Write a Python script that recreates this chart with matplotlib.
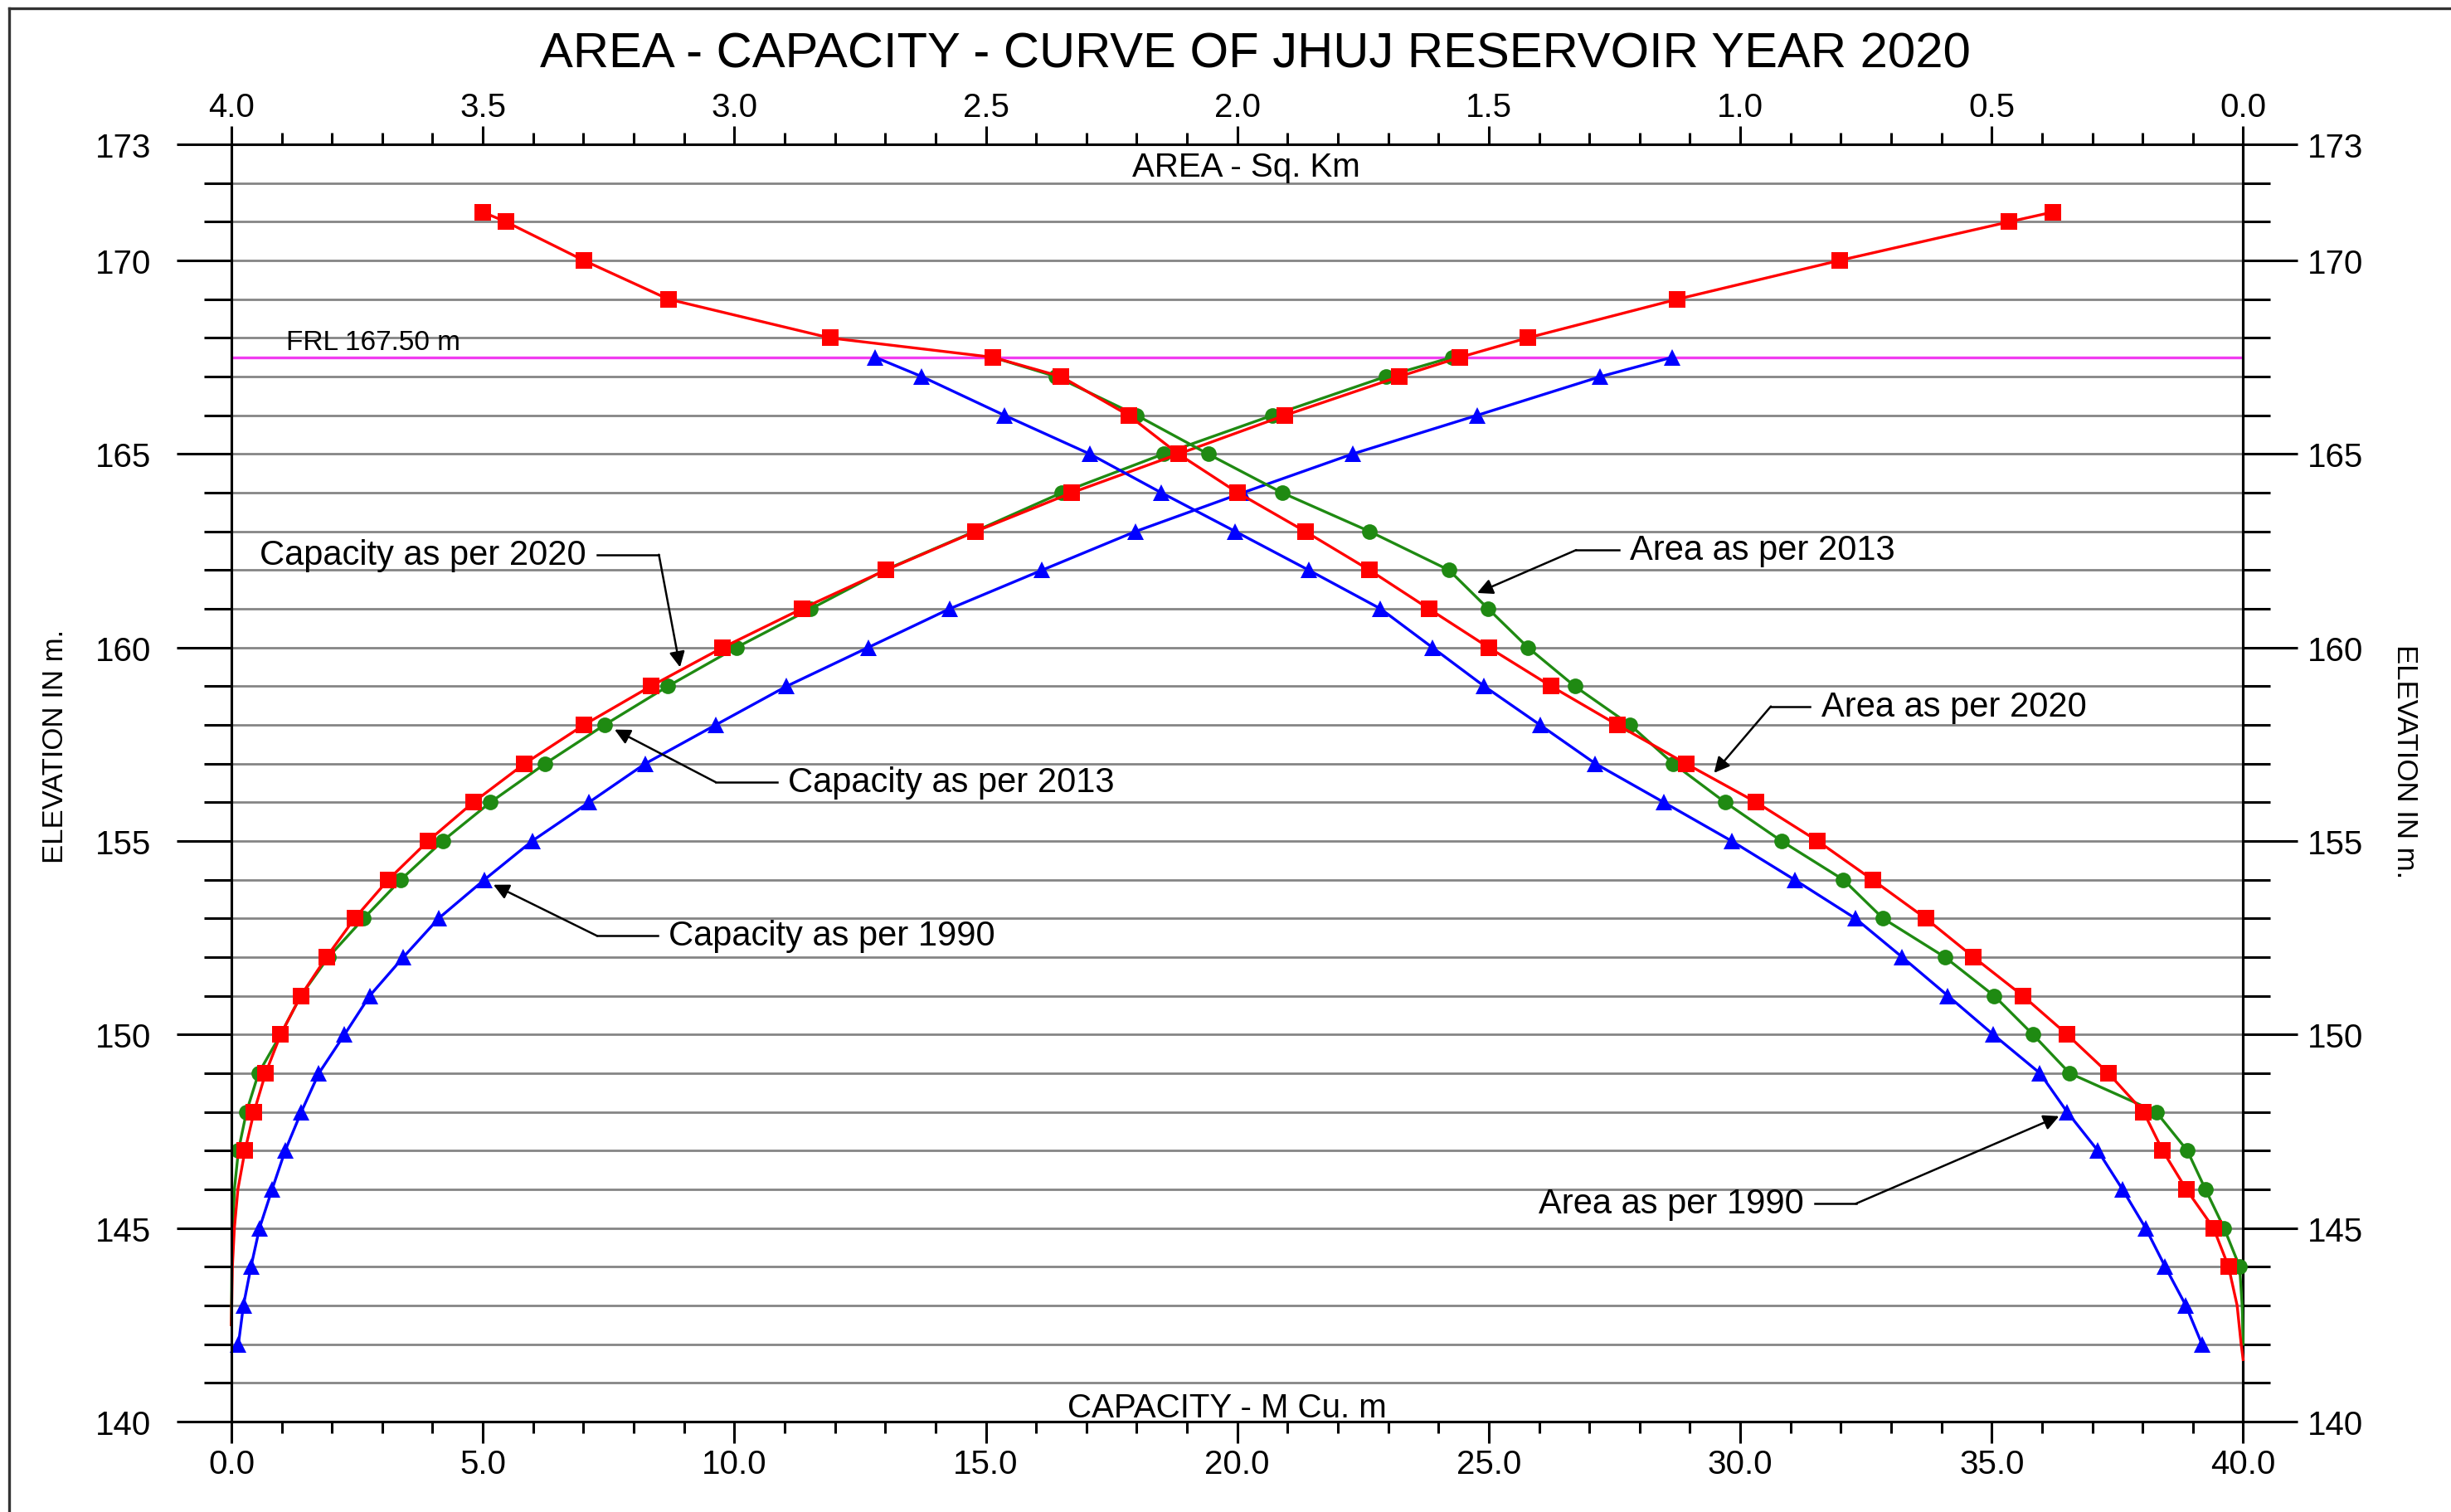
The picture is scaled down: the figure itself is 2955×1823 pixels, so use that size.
import numpy as np
import matplotlib
matplotlib.use("Agg")
import matplotlib.pyplot as plt
from matplotlib.lines import Line2D
from matplotlib.ticker import FormatStrFormatter

plt.rcParams["font.family"] = ["Liberation Sans", "DejaVu Sans"]

TITLE = "AREA - CAPACITY - CURVE OF JHUJ RESERVOIR YEAR 2020"
FRL = 167.5

# elevations (m) at which each survey was tabulated
ELEV_2020_CAP = [171.25, 171, 170, 169, 168, 167.5] + list(range(167, 146, -1))
ELEV_2020_AREA = [171.25, 171, 170, 169, 168, 167.5] + list(range(167, 143, -1))
ELEV_2013_CAP = [167.5] + list(range(167, 146, -1))
ELEV_2013_AREA = [167.5] + list(range(167, 143, -1))
ELEV_1990 = [167.5] + list(range(167, 141, -1))

# capacity, M Cu. m
CAP_2020 = [36.21, 35.35, 31.97, 28.75, 25.77, 24.43, 23.22, 20.95, 18.83, 16.71,
            14.80, 13.01, 11.34, 9.77, 8.34, 7.01, 5.83, 4.81, 3.91, 3.12,
            2.45, 1.89, 1.38, 0.98, 0.68, 0.45, 0.27]
CAP_2013 = [24.27, 22.95, 20.70, 18.53, 16.51, 14.78, 12.99, 11.52, 10.04, 8.68,
            7.42, 6.24, 5.15, 4.20, 3.37, 2.63, 1.93, 1.38, 0.98, 0.54,
            0.30, 0.14]
CAP_1990 = [28.65, 27.22, 24.77, 22.29, 20.11, 17.98, 16.12, 14.28, 12.66, 11.04,
            9.63, 8.23, 7.11, 5.98, 5.03, 4.12, 3.42, 2.75, 2.25, 1.74,
            1.39, 1.07, 0.81, 0.56, 0.39, 0.24, 0.14]

# water spread area, Sq. Km
AREA_2020 = [3.50, 3.454, 3.299, 3.131, 2.81, 2.486, 2.35, 2.216, 2.117, 1.999,
             1.865, 1.737, 1.619, 1.500, 1.376, 1.244, 1.108, 0.968, 0.846, 0.737,
             0.631, 0.536, 0.438, 0.350, 0.268, 0.198, 0.160, 0.113, 0.059, 0.029]
AREA_2013 = [2.486, 2.36, 2.20, 2.058, 1.911, 1.737, 1.579, 1.501, 1.422, 1.329,
             1.219, 1.133, 1.030, 0.918, 0.795, 0.716, 0.593, 0.495, 0.418, 0.345,
             0.173, 0.111, 0.075, 0.038, 0.007]
AREA_1990 = [2.72, 2.627, 2.463, 2.293, 2.151, 2.004, 1.858, 1.715, 1.612, 1.509,
             1.398, 1.288, 1.152, 1.017, 0.892, 0.771, 0.678, 0.587, 0.497, 0.404,
             0.350, 0.289, 0.240, 0.194, 0.155, 0.114, 0.082]

# curve run-out below the last tabulated level (no marker)
TAIL_CAP_2020 = ([146, 145, 144, 142.5], [0.13, 0.06, 0.02, 0.0])
TAIL_CAP_2013 = ([146, 145, 144, 142.5], [0.06, 0.03, 0.01, 0.0])
TAIL_AREA_2020 = ([143, 142, 141.6], [0.012, 0.004, 0.0])
TAIL_AREA_2013 = ([143, 142], [0.002, 0.0])

# callouts: text, text anchor (capacity, elev), alignment, elbow x, arrow tip
CALLOUTS = [
    ("Capacity as per 2020", (7.06, 162.40), "right", 8.50, (8.92, 159.49)),
    ("Capacity as per 2013", (11.07, 156.52), "left", 9.63, (7.62, 157.88)),
    ("Capacity as per 1990", (8.69, 152.55), "left", 7.27, (5.21, 153.87)),
    ("Area as per 2013", (27.81, 162.52), "left", 26.74, (24.77, 161.41)),
    ("Area as per 2020", (31.61, 158.48), "left", 30.61, (29.48, 156.76)),
    ("Area as per 1990", (31.27, 145.63), "right", 32.30, (36.34, 147.89)),
]

RED, GREEN, BLUE = "#ff0000", "#1f8a12", "#0000ff"
TICK_FS = 29


def draw_curve(ax, xs, elev, color, marker, ms, tail=None, z=3):
    x_all, y_all = list(xs), list(elev)
    if tail is not None:
        y_all += list(tail[0])
        x_all += list(tail[1])
    ax.plot(x_all, y_all, color=color, lw=2.4, marker=marker, ms=ms,
            markevery=list(range(len(xs))), markeredgewidth=0,
            zorder=z, clip_on=False)


fig = plt.figure(figsize=(29.55, 18.24), dpi=100)
ax = fig.add_axes([0.0944, 0.0598, 0.8208, 0.8442])
ax.set_xlim(0, 40)
ax.set_ylim(140, 173)

# capacity axis (bottom)
ax.set_xticks(np.arange(0, 41, 5))
ax.set_xticks(np.arange(0, 41, 1), minor=True)
ax.xaxis.set_major_formatter(FormatStrFormatter("%.1f"))
ax.tick_params(axis="x", which="major", length=18.5, width=2.2, pad=4.5,
               labelsize=TICK_FS)
ax.tick_params(axis="x", which="minor", length=10, width=2.2)

# elevation axis (left + right)
major_y = [140, 145, 150, 155, 160, 165, 170, 173]
ax.set_yticks(major_y)
ax.set_yticks(np.arange(140, 174, 1), minor=True)
ax.tick_params(axis="y", which="major", length=47.5, width=2.2, pad=22,
               labelsize=TICK_FS)
ax.tick_params(axis="y", which="minor", length=24, width=2.2)
ax.grid(axis="y", which="both", color="#858585", lw=2.0, zorder=0)

sec = ax.secondary_yaxis("right")
sec.set_yticks(major_y)
sec.set_yticks(np.arange(140, 174, 1), minor=True)
sec.tick_params(axis="y", which="major", length=47.5, width=2.2, pad=8.6,
                labelsize=TICK_FS)
sec.tick_params(axis="y", which="minor", length=24, width=2.2)

# area axis (top, reversed)
ax2 = ax.twiny()
ax2.set_xlim(4.0, 0.0)
ax2.set_xticks(np.arange(0, 4.01, 0.5))
ax2.set_xticks(np.arange(0, 4.01, 0.1), minor=True)
ax2.xaxis.set_major_formatter(FormatStrFormatter("%.1f"))
ax2.tick_params(axis="x", which="major", length=16, width=2.2, pad=2.5,
                labelsize=TICK_FS)
ax2.tick_params(axis="x", which="minor", length=10, width=2.2)

for a in (ax, ax2):
    for s in a.spines.values():
        s.set_linewidth(2.2)
sec.spines["right"].set_linewidth(2.2)

# full reservoir level
ax.axhline(FRL, color="#f03cf0", lw=2.4, zorder=2)
ax.text(1.09, FRL + 0.06, "FRL 167.50 m", fontsize=24, ha="left", va="bottom")

# capacity curves
draw_curve(ax, CAP_1990, ELEV_1990, BLUE, "^", 15, z=3)
draw_curve(ax, CAP_2013, ELEV_2013_CAP, GREEN, "o", 13.5, TAIL_CAP_2013, z=4)
draw_curve(ax, CAP_2020, ELEV_2020_CAP, RED, "s", 15, TAIL_CAP_2020, z=5)

# area curves
draw_curve(ax2, AREA_1990, ELEV_1990, BLUE, "^", 15, z=3)
draw_curve(ax2, AREA_2013, ELEV_2013_AREA, GREEN, "o", 13.5, TAIL_AREA_2013, z=4)
draw_curve(ax2, AREA_2020, ELEV_2020_AREA, RED, "s", 15, TAIL_AREA_2020, z=5)

# axis captions inside the frame
ax.text(20.17, 172.43, "AREA - Sq. Km", fontsize=29, ha="center", va="center")
ax.text(19.8, 140.36, "CAPACITY - M Cu. m", fontsize=29, ha="center", va="center")

# callouts with leader lines
for label, (tx, ty), ha, elbow_x, tip in CALLOUTS:
    ax.text(tx, ty, label, fontsize=30, ha=ha, va="center", zorder=6)
    start_x = tx + 0.22 if ha == "right" else tx - 0.22
    ax.plot([start_x, elbow_x], [ty, ty], color="black", lw=1.8, zorder=6)
    ax.annotate("", xy=tip, xytext=(elbow_x, ty),
                arrowprops=dict(arrowstyle="-|>", color="black", lw=1.8,
                                mutation_scale=28, shrinkA=0, shrinkB=0),
                zorder=6)

fig.text(0.512, 0.964, TITLE, ha="center", va="center", fontsize=43)
fig.text(66 / 2955, 1 - 900 / 1824, "ELEVATION IN m.", rotation=90,
         ha="center", va="center", fontsize=25)
fig.text(2900 / 2955, 1 - 918 / 1824, "ELEVATION IN m.", rotation=270,
         ha="center", va="center", fontsize=25)

# drawing sheet border
fig.add_artist(Line2D([0.0037, 0.0037], [0.0, 0.994], color="#333333", lw=2.4))
fig.add_artist(Line2D([0.0037, 1.0], [0.994, 0.994], color="#333333", lw=2.4))

fig.savefig("out.png", dpi=100)
